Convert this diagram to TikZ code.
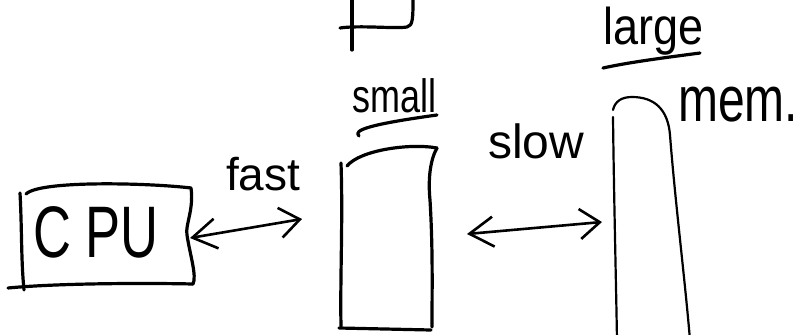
\documentclass[tikz,border=0pt]{standalone}
\usepackage{fontspec}
\setmainfont{Liberation Sans}
\usetikzlibrary{arrows.meta}
\tikzset{
  pen/.style={line width=3.2pt, line cap=round, line join=round},
  thinpen/.style={line width=2.2pt, line cap=round, line join=round},
  twoway/.style={pen, line width=2.6pt, {Straight Barb[length=24pt,width=30pt]}-{Straight Barb[length=20pt,width=30pt]}},
  label/.style={inner sep=0pt, anchor=base west}
}
\begin{document}
\begin{tikzpicture}[x=1pt,y=-1pt]
\useasboundingbox (0,0) rectangle (807,335);

% top fragment
\draw[pen] (352,-3) -- (352,50);
\draw[pen] (340,28) .. controls (360,25) and (395,29) .. (407,27) .. controls (413,26) and (413,18) .. (413,-3);

% CPU box
\node[label] (cpu) at (33,257) {\scalebox{0.72}[1]{\fontsize{73}{73}\selectfont C PU}};
\draw[pen] (26,194) .. controls (40,180) and (150,183) .. (191,188);
\draw[pen] (20,193) .. controls (22,230) and (21,260) .. (24,290);
\draw[pen] (8,288) .. controls (60,283) and (150,283) .. (193,284);
\draw[pen] (191,188) .. controls (194,210) and (185,225) .. (187,235) .. controls (190,255) and (197,276) .. (193,284);

% small box
\node[label] (small) at (352,112) {\scalebox{1}[1.3]{\fontsize{36}{36}\selectfont small}};
\draw[pen] (359,136) .. controls (352,130) and (372,124) .. (437,115);
\draw[pen] (341,163) .. controls (343,220) and (340,280) .. (341,326);
\draw[pen] (347,166) .. controls (360,150) and (410,143) .. (437,148);
\draw[pen] (437,148) .. controls (430,160) and (428,180) .. (430,200) .. controls (433,250) and (432,290) .. (432,327);
\draw[pen] (339,328) -- (431,330);

% fast arrow
\node[label] (fast) at (226,190) {\fontsize{46}{46}\selectfont fast};
\coordinate (f1) at (190,238);
\coordinate (f2) at (302,219);
\draw[twoway] (f1) -- (f2);

% slow arrow
\node[label] (slow) at (488,158) {\fontsize{48}{48}\selectfont slow};
\coordinate (s1) at (467,234);
\coordinate (s2) at (602,222);
\draw[twoway] (s1) -- (s2);

% large memory
\node[label] (large) at (603,44) {\scalebox{1}[1.15]{\fontsize{45}{45}\selectfont large}};
\draw[pen] (603,68) .. controls (630,62) and (670,57) .. (700,53);
\node[label] (mem) at (678,121) {\scalebox{0.75}[1]{\fontsize{64}{64}\selectfont mem.}};
\draw[thinpen] (613,117) .. controls (614,200) and (616,280) .. (617,340);
\draw[thinpen] (613,110) .. controls (615,101) and (622,97) .. (632,97) .. controls (655,97) and (668,110) .. (670,135);
\draw[thinpen] (670,135) .. controls (675,200) and (685,280) .. (690,340);
\end{tikzpicture}
\end{document}
